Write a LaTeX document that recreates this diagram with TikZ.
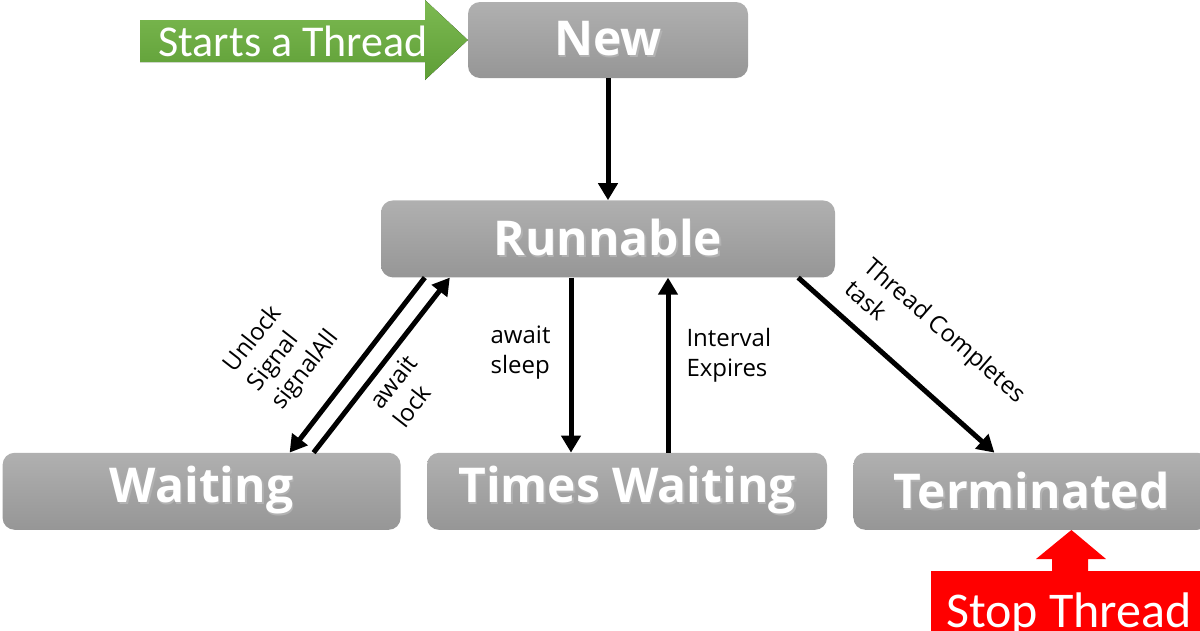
\documentclass[tikz,border=0pt]{standalone}
\usepackage{fontspec}
\setmainfont{Open Sans}
\newfontfamily\calfont{Carlito}
\usepackage{xcolor}
\usepackage{tikz}
\usetikzlibrary{arrows.meta, positioning}
\definecolor{boxtop}{HTML}{B0B0B0}
\definecolor{boxbot}{HTML}{969696}
\definecolor{gotop}{HTML}{7DBA52}
\definecolor{gobot}{HTML}{5E9E36}
\definecolor{stopred}{HTML}{FF0000}

% white state text with a soft drop shadow
\newcommand{\shadowed}[1]{\makebox[0pt][l]{\kern1.5pt\raisebox{-2pt}{\textcolor{black!30}{#1}}}#1}

\begin{document}
\begin{tikzpicture}[
    x=1pt, y=-1pt,
    state/.style={rounded corners=12pt, top color=boxtop, bottom color=boxbot,
                  minimum height=77pt, inner sep=0pt, text=white,
                  font=\bfseries\fontsize{48}{52}\selectfont},
    lbl/.style={font=\fontsize{24}{30}\selectfont, align=left, inner sep=0pt},
    arr/.style={-{Triangle[length=17pt, width=19pt]}, line width=5pt},
  ]
  \clip (0,0) rectangle (1200,630);

  % States
  \node[state, minimum width=280pt, minimum height=76pt] (new) at (608,40) {\shadowed{New}};
  \node[state, minimum width=454pt, below=122pt of new] (runnable) {\shadowed{Runnable}};
  \node[state, minimum width=400pt, below=175pt of runnable, xshift=19pt] (times) {\shadowed{Times Waiting}};
  \node[state, minimum width=398pt, left=26pt of times] (waiting) {\shadowed{Waiting}};
  \node[state, minimum width=356pt, right=26pt of times] (term) {\shadowed{Terminated}};

  % Start arrow
  \fill[top color=gotop, bottom color=gobot]
    (140,20) -- (425,20) -- (425,0) -- (new.west) -- (425,80) -- (425,62) -- (140,62) -- cycle;
  \node[text=white, font=\calfont\fontsize{44}{48}\selectfont, inner sep=0pt] (starts) at (293,41) {Starts a Thread};

  % Stop arrow
  \fill[stopred] (931,640) -- (931,571) -- (1052,571) -- (1052,559) -- (1036,559)
    -- ([xshift=40pt]term.south) -- (1106,559) -- (1088,559) -- (1088,571) -- (1210,571) -- (1210,640) -- cycle;
  \node[text=white, font=\calfont\fontsize{50}{54}\selectfont, inner sep=0pt, anchor=base west] (stop) at (946,627) {Stop Thread};

  % Transitions
  \draw[arr] (new) -- (runnable);
  \draw[arr] ([xshift=44pt]runnable.south west) -- ([xshift=88pt]waiting.north);
  \draw[arr] ([xshift=112pt]waiting.north) -- ([xshift=69pt]runnable.south west);
  \draw[arr] ([xshift=-37pt]runnable.south) -- node[lbl, left, pos=0.43, xshift=-18pt] (sleep) {await\\sleep} ([xshift=-56pt]times.north);
  \draw[arr] ([xshift=41pt]times.north) -- node[lbl, right, pos=0.555, xshift=16pt] (expires) {Interval\\Expires} ([xshift=60pt]runnable.south);
  \draw[arr] ([xshift=-37pt]runnable.south east) -- ([xshift=-37pt]term.north);

  % Slanted labels
  \node[lbl, rotate=52] (unlock) at (282,352) {Unlock\\Signal\\signalAll};
  \node[lbl, rotate=52] (lock) at (405,391) {await\\lock};
  \node[lbl, rotate=-41] (done) at (936,341) {Thread Completes\\task};

\end{tikzpicture}
\end{document}
